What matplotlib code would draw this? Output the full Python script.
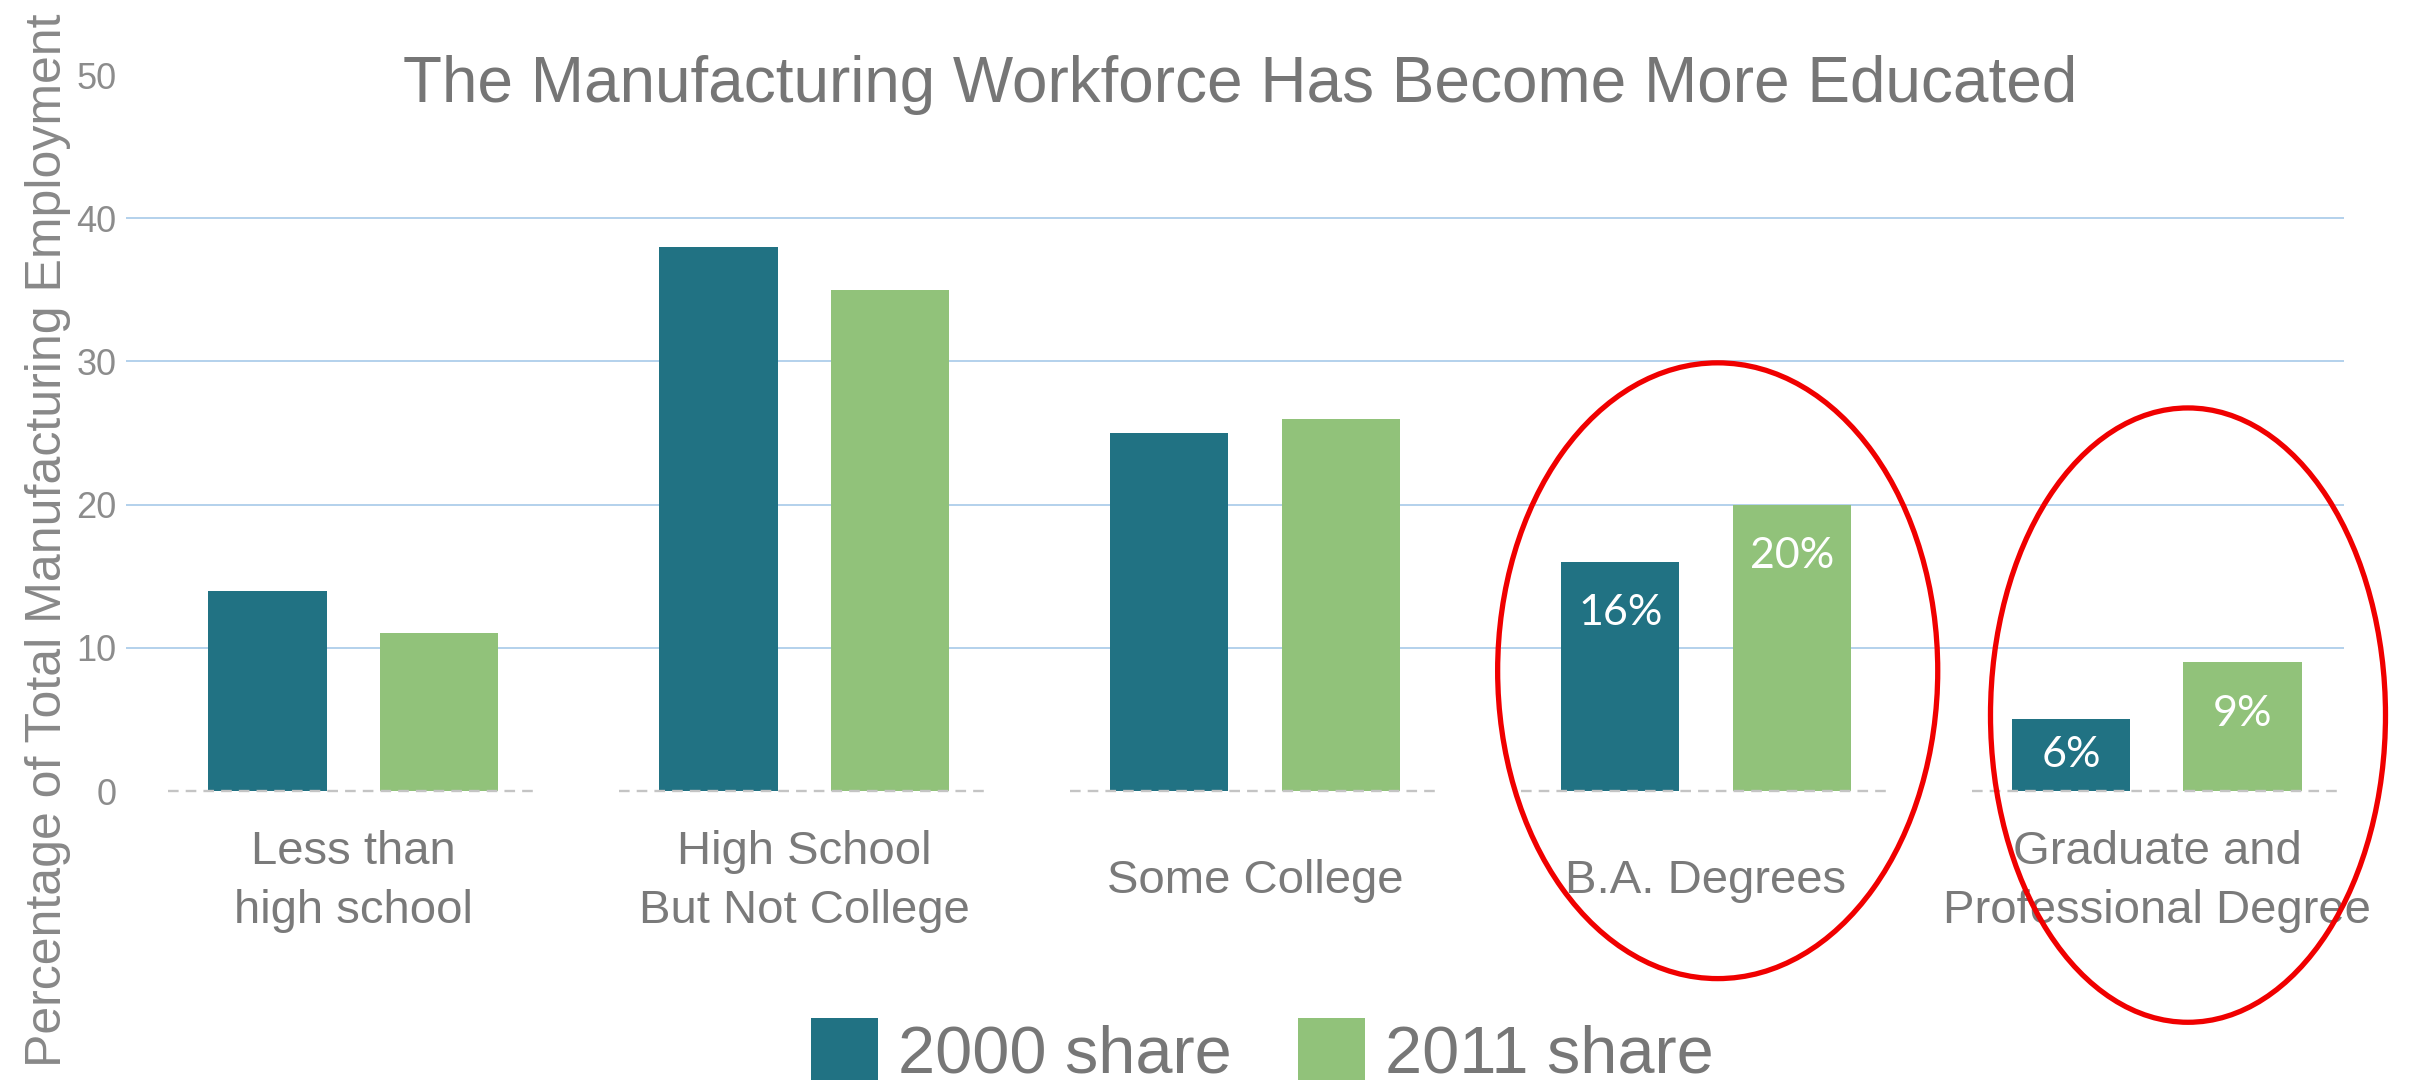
import matplotlib
matplotlib.use("Agg")
import matplotlib.pyplot as plt
from matplotlib.patches import Ellipse
import numpy as np

plt.rcParams['font.family'] = ['Liberation Sans', 'DejaVu Sans']

# data
categories = ['Less than\nhigh school', 'High School\nBut Not College', 'Some College',
              'B.A. Degrees', 'Graduate and\nProfessional Degree']
share_2000 = [14, 38, 25, 16, 5]
share_2011 = [11, 35, 26, 20, 9]
series_names = ['2000 share', '2011 share']
labels_2000 = ['', '', '', '16%', '6%']
labels_2011 = ['', '', '', '20%', '9%']
yticks = [0, 10, 20, 30, 40, 50]

dark = '#217283'
green = '#91c27a'

fig = plt.figure(figsize=(24.18, 10.87), dpi=100)
ax = fig.add_axes([0.0521, 0.2723, 0.9173, 0.6587])

x = np.arange(len(categories))
w = 0.262
off = 0.19
b1 = ax.bar(x - off, share_2000, w, color=dark, label=series_names[0], zorder=2)
b2 = ax.bar(x + off, share_2011, w, color=green, label=series_names[1], zorder=2)

# white value labels inside the bars
for bars, labs in ((b1, labels_2000), (b2, labels_2011)):
    for rect, lab in zip(bars, labs):
        if not lab:
            continue
        h = rect.get_height()
        ypos = max(h - 3.6, h / 2)
        ax.text(rect.get_x() + rect.get_width() / 2, ypos, lab, ha='center', va='center',
                color='white', fontsize=31, family=['Lato', 'DejaVu Sans'], zorder=4)

# dashed baseline under each group
for xi in x:
    ax.plot([xi - 0.41, xi + 0.40], [0, 0], color='#c4c4c4', lw=1.7,
            dashes=(4.5, 3), zorder=3, clip_on=False)

ax.set_xlim(-0.504, 4.415)
ax.set_ylim(0, 50)
ax.set_yticks(yticks)
ax.set_xticks(x)
ax.set_xticklabels(categories, fontsize=34, color='#7a7a7a', linespacing=1.45)
for lbl in ax.get_xticklabels():
    lbl.set_va('center')
ax.tick_params(axis='x', length=0, pad=65)
ax.tick_params(axis='y', length=0, pad=7, labelsize=26, labelcolor='#8c8c8c')

ax.grid(axis='y', color='#b3d1ec', lw=1.4, zorder=0)
gl = ax.yaxis.get_gridlines()
gl[0].set_visible(False)
gl[-1].set_visible(False)
ax.set_axisbelow(True)
for s in ax.spines.values():
    s.set_visible(False)

ax.set_ylabel('Percentage of Total Manufacturing Employment', fontsize=36, color='#888888')
ax.yaxis.set_label_coords(-0.025, 0.35)

# red ellipses around the last two groups
ell_specs = [(3.026, 8.4, 0.976, 43.0), (4.069, 5.3, 0.876, 42.9)]
for (cx, cy, ew, eh) in ell_specs:
    ax.add_patch(Ellipse((cx, cy), ew, eh, fill=False, edgecolor='#f00000',
                         lw=3.8, clip_on=False, zorder=5))

fig.text(0.513, 0.922, 'The Manufacturing Workforce Has Become More Educated',
         ha='center', va='center', fontsize=46, color='#767676')

fig.legend(handles=[b1, b2], labels=series_names, loc='center', bbox_to_anchor=(0.522, 0.032),
           ncol=2, frameon=False, fontsize=48, labelcolor='#777777',
           handlelength=1.0, handleheight=1.05, handletextpad=0.3, columnspacing=1.0)

fig.savefig('out.png', dpi=100)
